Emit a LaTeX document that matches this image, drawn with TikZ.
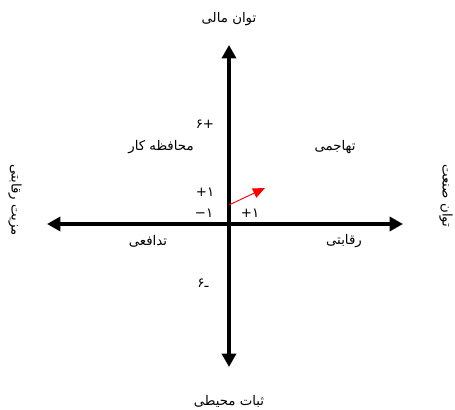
\documentclass[tikz,border=0pt]{standalone}
\usepackage{fontspec}
\usetikzlibrary{arrows.meta}
\newfontfamily\arabicfont[Script=Arabic]{DejaVu Sans}
\TeXXeTstate=1

\begin{document}
\begin{tikzpicture}[x=0.75pt, y=-0.75pt,
        lbl/.style={font=\arabicfont\fontsize{10}{12}\selectfont, inner sep=1pt},
        num/.style={font=\arabicfont\fontsize{10}{12}\selectfont, inner sep=1pt},
        axis/.style={line width=3pt, {Triangle[length=10pt, width=10.5pt]}-{Triangle[length=10pt, width=10.5pt]}},
        vec/.style={-{Triangle[length=9pt, width=7.5pt]}, line width=0.7pt, color=red}]

        \useasboundingbox (0,0) rectangle (455,410);

        % axes
        \coordinate (top) at (229,45);
        \coordinate (bot) at (229,367);
        \coordinate (lft) at (47,224);
        \coordinate (rgt) at (403,224);
        \draw[axis] (bot) -- (top);
        \draw[axis] (lft) -- (rgt);

        % axis titles
        \node[lbl] (mali) at (229,19) {\beginR توان مالی\endR};
        \node[lbl] (sabat) at (229,401) {\beginR ثبات محیطی\endR};
        \node[lbl, rotate=-90] (mazit) at (15,200) {\beginR مزیت رقابتی\endR};
        \node[lbl, rotate=-90] (sanat) at (446,196) {\beginR توان صنعت\endR};

        % quadrants
        \node[lbl] (mohafeze) at (161,147) {\beginR محافظه کار\endR};
        \node[lbl] (tahajomi) at (335,147) {\beginR تهاجمی\endR};
        \node[lbl] (tadafoi) at (148,241) {\beginR تدافعی\endR};
        \node[lbl] (reghabati) at (344,241) {\beginR رقابتی\endR};

        % scale marks
        \node[num] (p6) at (205,124) {+۶};
        \node[num] (p1) at (205,192) {۱+};
        \node[num] (m1) at (204,213) {۱−};
        \node[num] (h1) at (250,213) {۱+};
        \node[num] (m6) at (203,283) {ـ۶};

        % position
        \coordinate (o1) at (229,205);
        \coordinate (pos) at (265,188);
        \draw[vec] (o1) -- (pos);
      \end{tikzpicture}
\end{document}
